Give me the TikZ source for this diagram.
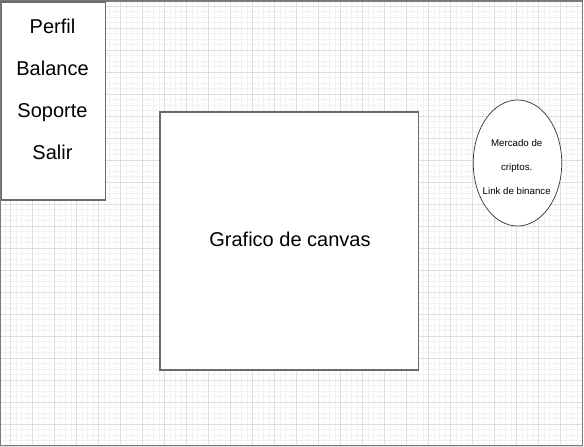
\documentclass[tikz,border=0pt]{standalone}
\usepackage{fontspec}
\setmainfont{Liberation Sans}
\usetikzlibrary{shapes.geometric}
\definecolor{minorgrid}{HTML}{F2F2F2}
\definecolor{majorgrid}{HTML}{DEDEDE}
\definecolor{boxline}{HTML}{6A6A6A}
\definecolor{frameline}{HTML}{7A7A7A}
\tikzset{
  minorline/.style={draw=minorgrid, line width=0.5pt},
  majorline/.style={draw=majorgrid, line width=0.7pt},
  boxshape/.style={draw=boxline, fill=white, line width=1.6pt},
  bigtext/.style={font=\fontsize{20}{24}\selectfont, anchor=base, inner sep=0pt},
  smalltext/.style={font=\fontsize{9.7}{12}\selectfont, anchor=base, inner sep=0pt},
}
\begin{document}
\begin{tikzpicture}[x=1pt,y=-1pt]
\useasboundingbox (0,0) rectangle (584,447);
\fill[white] (0,0) rectangle (584,447);
\begin{scope}
\clip (0,0) rectangle (583,446);
\foreach \i in {0,...,106} { \draw[minorline] ({\i*5.5-0.3},0) -- ({\i*5.5-0.3},447); }
\foreach \i in {0,...,81} { \draw[minorline] (0,{\i*5.5+0.5}) -- (584,{\i*5.5+0.5}); }
\foreach \i in {0,...,26} { \draw[majorline] ({\i*22+10.7},0) -- ({\i*22+10.7},447); }
\foreach \i in {0,...,20} { \draw[majorline] (0,{\i*22+6}) -- (584,{\i*22+6}); }
\end{scope}
\draw[frameline, line width=1.2pt] (0.6,1) rectangle (582.4,445.6);
% menu
\node[boxshape, minimum width=104pt, minimum height=198pt, anchor=north west, inner sep=0pt] (menu) at (0.8,1) {};
\node[bigtext] (perfil) at (52.5,33.5) {Perfil};
\node[bigtext] (balance) at (52.5,75.3) {Balance};
\node[bigtext] (soporte) at (52.5,117) {Soporte};
\node[bigtext] (salir) at (52.5,159.8) {Salir};
% canvas
\node[boxshape, minimum width=258.4pt, minimum height=258pt, anchor=north west, inner sep=0pt] (canvas) at (159.3,111.3) {};
\node[bigtext] (canvastext) at (290,246.7) {Grafico de canvas};
% ellipse
\node[ellipse, draw=black!80, fill=white, line width=0.7pt, minimum width=88.5pt, minimum height=126pt, inner sep=0pt] (mercado) at (517.5,163) {};
\node[smalltext] (m1) at (516.7,146.3) {Mercado de};
\node[smalltext] (m2) at (516.7,170.3) {criptos.};
\node[smalltext] (m3) at (516.7,194) {Link de binance};
\end{tikzpicture}
\end{document}
